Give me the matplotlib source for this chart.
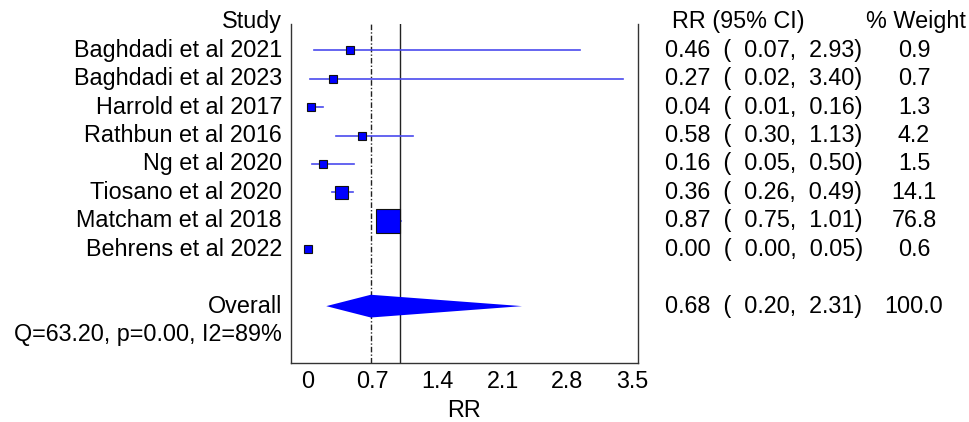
import numpy as np
import matplotlib
matplotlib.use("Agg")
from matplotlib import pyplot as plt
from matplotlib.transforms import blended_transform_factory

plt.rcParams['font.family'] = ['Liberation Sans', 'DejaVu Sans']

studies = ["Baghdadi et al 2021", "Baghdadi et al 2023", "Harrold et al 2017",
           "Rathbun et al 2016", "Ng et al 2020", "Tiosano et al 2020",
           "Matcham et al 2018", "Behrens et al 2022"]
rr = [0.46, 0.27, 0.04, 0.58, 0.16, 0.36, 0.87, 0.00]
lo = [0.07, 0.02, 0.01, 0.30, 0.05, 0.26, 0.75, 0.00]
hi = [2.93, 3.40, 0.16, 1.13, 0.50, 0.49, 1.01, 0.05]
weight = [0.9, 0.7, 1.3, 4.2, 1.5, 14.1, 76.8, 0.6]

overall_rr = 0.68
overall_lo = 0.20
overall_hi = 2.31
overall_weight = 100.0
het_text = "Q=63.20, p=0.00, I2=89%"

xticks = [0, 0.7, 1.4, 2.1, 2.8, 3.5]
xtick_labels = ["0", "0.7", "1.4", "2.1", "2.8", "3.5"]

fs = 16.8
fig = plt.figure(figsize=(9.7, 4.22), dpi=100)
ax = fig.add_axes([0.3, 0.1398, 0.3577, 0.8032])

rows = np.arange(1, len(studies) + 1)
overall_row = 10
het_row = 11

# CI lines and weighted squares
for y, est, l, h, w in zip(rows, rr, lo, hi, weight):
    ax.plot([l, h], [y, y], color='#4a4aee', lw=1.2, zorder=2)
    side_px = max(8, 13 * (w / 14.1) ** 0.36)
    ax.plot(est, y, marker='s', ms=side_px * 0.72, mfc='#0000ff', mec='#111111',
            mew=0.8, zorder=3)

# overall diamond
hd = 0.4
ax.fill([overall_lo, overall_rr, overall_hi, overall_rr],
        [overall_row, overall_row - hd, overall_row, overall_row + hd],
        color='#0000ff', lw=0, zorder=3)

ax.axvline(overall_rr, color='#222222', lw=1, ls=(0, (4, 1.5, 1, 1.5)), zorder=1)
ax.axvline(1.0, color='#222222', lw=1, zorder=1)

ax.set_xlim(-0.18, 3.56)
ax.set_ylim(12.0, 0.08)
ax.spines['top'].set_visible(False)
for s in ['left', 'right', 'bottom']:
    ax.spines[s].set_color('#333333')
    ax.spines[s].set_linewidth(1)
ax.set_yticks([])
ax.set_xticks(xticks)
ax.set_xticklabels(xtick_labels, fontsize=fs)
ax.tick_params(axis='x', length=0, pad=5)
ax.set_xlabel("RR", fontsize=fs, labelpad=4)

tr = blended_transform_factory(fig.transFigure, ax.transData)
lab_x = 282 / 970
rr_x = 665 / 970
w_x = 914 / 970

ax.text(lab_x, 0, "Study", transform=tr, ha='right', va='center', fontsize=fs)
ax.text(672 / 970, 0, "RR (95% CI)", transform=tr, ha='left', va='center', fontsize=fs)
ax.text(916 / 970, 0, "% Weight", transform=tr, ha='center', va='center', fontsize=fs)

for y, name, est, l, h, w in zip(rows, studies, rr, lo, hi, weight):
    ax.text(lab_x, y, name, transform=tr, ha='right', va='center', fontsize=fs)
    ax.text(rr_x, y, f"{est:.2f}  (  {l:.2f},  {h:.2f})", transform=tr,
            ha='left', va='center', fontsize=fs)
    ax.text(w_x, y, f"{w:.1f}", transform=tr, ha='center', va='center', fontsize=fs)

ax.text(lab_x, overall_row, "Overall", transform=tr, ha='right', va='center', fontsize=fs)
ax.text(rr_x, overall_row,
        f"{overall_rr:.2f}  (  {overall_lo:.2f},  {overall_hi:.2f})",
        transform=tr, ha='left', va='center', fontsize=fs)
ax.text(w_x, overall_row, f"{overall_weight:.1f}", transform=tr, ha='center',
        va='center', fontsize=fs)
ax.text(lab_x, het_row, het_text, transform=tr, ha='right', va='center', fontsize=fs)

fig.savefig("out.png", dpi=100)
